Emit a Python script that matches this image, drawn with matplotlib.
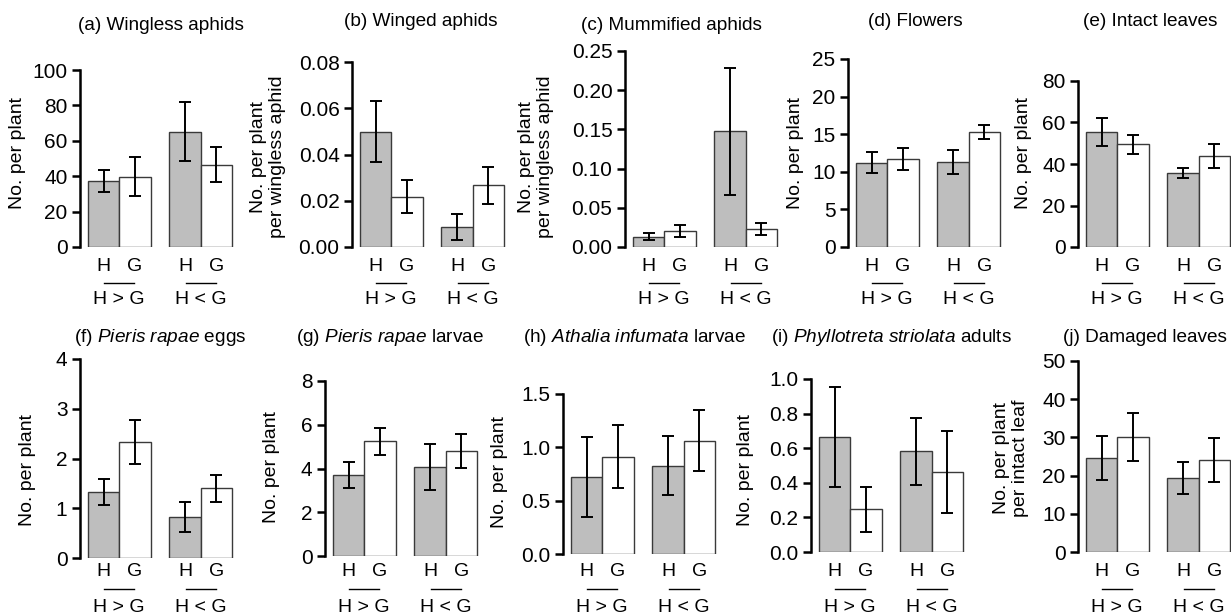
import matplotlib
matplotlib.use("Agg")
import matplotlib.pyplot as plt
import matplotlib.transforms as mtransforms
import numpy as np

plt.rcParams["font.family"] = ["Liberation Sans", "DejaVu Sans"]
plt.rcParams["mathtext.fontset"] = "custom"
plt.rcParams["mathtext.rm"] = "Liberation Sans"
plt.rcParams["mathtext.it"] = "Liberation Sans:italic"

# bar order: H (H > G), G (H > G), H (H < G), G (H < G)
bar_labels = ["H", "G", "H", "G"]
group_labels = ["H > G", "H < G"]

titles = [
    "(a) Wingless aphids",
    "(b) Winged aphids",
    "(c) Mummified aphids",
    "(d) Flowers",
    "(e) Intact leaves",
    r"(f) $\mathit{Pieris\ rapae}$ eggs",
    r"(g) $\mathit{Pieris\ rapae}$ larvae",
    r"(h) $\mathit{Athalia\ infumata}$ larvae",
    r"(i) $\mathit{Phyllotreta\ striolata}$ adults",
    "(j) Damaged leaves",
]
ylabels = [
    "No. per plant",
    "No. per plant\nper wingless aphid",
    "No. per plant\nper wingless aphid",
    "No. per plant",
    "No. per plant",
    "No. per plant",
    "No. per plant",
    "No. per plant",
    "No. per plant",
    "No. per plant\nper intact leaf",
]

wingless_mean = [37.2, 39.8, 65.1, 46.6]
wingless_se = [6.2, 11.0, 16.6, 9.8]
winged_mean = [0.0499, 0.0217, 0.0085, 0.0268]
winged_se = [0.0133, 0.0072, 0.0056, 0.0080]
mummy_mean = [0.0132, 0.0204, 0.1475, 0.0225]
mummy_se = [0.0048, 0.0074, 0.0810, 0.0075]
flowers_mean = [11.2, 11.7, 11.3, 15.3]
flowers_se = [1.42, 1.45, 1.60, 0.90]
intact_mean = [55.5, 49.4, 35.6, 43.9]
intact_se = [6.9, 4.5, 2.25, 5.8]
eggs_mean = [1.33, 2.33, 0.83, 1.40]
eggs_se = [0.26, 0.45, 0.30, 0.27]
pieris_mean = [3.72, 5.24, 4.08, 4.80]
pieris_se = [0.59, 0.60, 1.05, 0.76]
athalia_mean = [0.725, 0.913, 0.828, 1.063]
athalia_se = [0.374, 0.292, 0.274, 0.284]
phyllo_mean = [0.664, 0.247, 0.583, 0.465]
phyllo_se = [0.290, 0.131, 0.193, 0.237]
damaged_mean = [24.6, 30.2, 19.4, 24.0]
damaged_se = [5.85, 6.3, 4.15, 5.8]

yticks = [
    [0, 20, 40, 60, 80, 100],
    [0.00, 0.02, 0.04, 0.06, 0.08],
    [0.00, 0.05, 0.10, 0.15, 0.20, 0.25],
    [0, 5, 10, 15, 20, 25],
    [0, 20, 40, 60, 80],
    [0, 1, 2, 3, 4],
    [0, 2, 4, 6, 8],
    [0.0, 0.5, 1.0, 1.5],
    [0.0, 0.2, 0.4, 0.6, 0.8, 1.0],
    [0, 10, 20, 30, 40, 50],
]
ytick_decimals = [0, 2, 2, 0, 0, 0, 0, 1, 1, 0]

means = [wingless_mean, winged_mean, mummy_mean, flowers_mean, intact_mean,
         eggs_mean, pieris_mean, athalia_mean, phyllo_mean, damaged_mean]
ses = [wingless_se, winged_se, mummy_se, flowers_se, intact_se,
       eggs_se, pieris_se, athalia_se, phyllo_se, damaged_se]

# layout in pixels (figure is 1231 x 615)
W, H = 1231, 615
axis_x = [80, 352, 625, 848, 1078, 80, 325, 563, 811, 1078]
zero_y = [247, 247, 247, 247, 247, 558, 556, 554, 552, 552]
top_y = [70, 62, 51, 59, 81, 359, 381, 394, 379, 361]
title_x = [161, 421, 671, 915, 1150, 160, 390, 634, 891, 1145]
title_y = [25, 22, 26, 21, 21, 337, 337, 338, 337, 337]
ylab_x = [18, 268, 536, 795, 1023, 28, 272, 500, 745, 1011]
ylab_y = [153, 157, 157, 153, 153, 470, 467, 472, 470, 458]
row_label_y = [(267, 283, 300)] * 5 + [(572, 589, 607)] * 5

bar_left = np.array([0.0, 1.0, 2.6, 3.6])
bar_x = bar_left + 0.5
group_x = [1.0, 3.6]
colors = ["#bebebe", "white", "#bebebe", "white"]
xlo, xhi = -0.25, 4.85
ax_w = 160

fig = plt.figure(figsize=(W / 100, H / 100), dpi=100)

for i in range(10):
    rect = [axis_x[i] / W, 1 - zero_y[i] / H, ax_w / W, (zero_y[i] - top_y[i]) / H]
    ax = fig.add_axes(rect)
    ax.patch.set_visible(False)
    ax.bar(bar_x, means[i], width=1.0, color=colors, edgecolor="#3a3a3a", linewidth=1.0)
    ax.errorbar(bar_x, means[i], yerr=ses[i], fmt="none", ecolor="black",
                elinewidth=1.4, capsize=4.5, capthick=1.4)
    ax.set_xlim(xlo, xhi)
    ax.set_ylim(yticks[i][0], yticks[i][-1])
    ax.set_yticks(yticks[i])
    ax.set_yticklabels([f"{t:.{ytick_decimals[i]}f}" for t in yticks[i]], fontsize=15)
    ax.tick_params(axis="y", length=6, width=1.8, pad=3)
    ax.set_xticks([])
    for s in ["top", "right", "bottom"]:
        ax.spines[s].set_visible(False)
    ax.spines["left"].set_linewidth(1.8)

    tr = mtransforms.blended_transform_factory(ax.transData, fig.transFigure)
    ly, lline, lg = row_label_y[i]
    for x, lab in zip(bar_x, bar_labels):
        ax.text(x, 1 - ly / H, lab, transform=tr, ha="center", va="center",
                fontsize=14, clip_on=False)
    for gx, glab in zip(group_x, group_labels):
        ax.plot([gx - 0.47, gx + 0.47], [1 - lline / H] * 2, transform=tr,
                color="black", linewidth=1.0, clip_on=False)
        ax.text(gx, 1 - lg / H, glab, transform=tr, ha="center", va="center",
                fontsize=14, clip_on=False)

    fig.text(ylab_x[i] / W, 1 - ylab_y[i] / H, ylabels[i], rotation=90,
             ha="center", va="center", fontsize=14, linespacing=1.15)
    fig.text(title_x[i] / W, 1 - title_y[i] / H, titles[i], ha="center",
             va="center", fontsize=13.7)

fig.savefig("out.png", dpi=100)
